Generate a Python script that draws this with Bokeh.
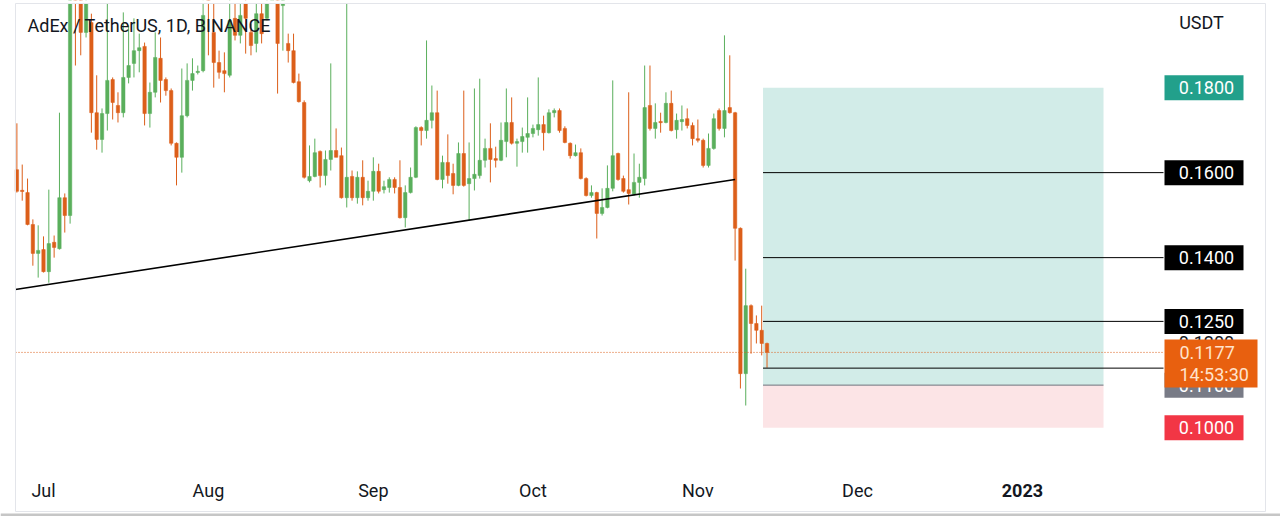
import pandas as pd
from bokeh.plotting import figure
from bokeh.models import Range1d, ColumnDataSource
from bokeh.core.properties import value
from bokeh.embed import file_html
from bokeh.resources import INLINE

# ---------------- data ----------------
start_date = "2022-06-26"
opens = [0.1607,0.1558,0.1553,0.1478,0.1410,0.1419,0.1367,0.1436,0.1421,0.1541,
         0.1499,0.2020,0.2005,0.1930,0.1953,0.1741,0.1678,0.1739,0.1819,0.1758,
         0.1741,0.1824,0.1857,0.1887,0.1897,0.1739,0.1789,0.1869,0.1819,0.1793,
         0.1669,0.1636,0.1734,0.1817,0.1836,0.1840,0.2015,0.1930,0.1859,0.1840,
         0.1829,0.1963,0.1923,0.1998,0.1930,0.1904,0.1974,0.1963,0.2010,0.2017,
         0.1993,0.1904,0.1887,0.1814,0.1765,0.1581,0.1591,0.1650,0.1593,0.1631,
         0.1652,0.1640,0.1541,0.1591,0.1541,0.1589,0.1541,0.1556,0.1603,0.1560,
         0.1565,0.1584,0.1565,0.1494,0.1553,0.1589,0.1706,0.1699,0.1723,0.1741,
         0.1584,0.1624,0.1598,0.1570,0.1645,0.1574,0.1586,0.1593,0.1629,0.1657,
         0.1633,0.1629,0.1673,0.1718,0.1669,0.1673,0.1683,0.1692,0.1701,0.1713,
         0.1694,0.1741,0.1746,0.1704,0.1669,0.1640,0.1647,0.1586,0.1546,0.1553,
         0.1504,0.1518,0.1563,0.1645,0.1586,0.1560,0.1549,0.1577,0.1586,0.1758,
         0.1704,0.1720,0.1718,0.1763,0.1701,0.1720,0.1727,0.1711,0.1680,0.1676,
         0.1617,0.1657,0.1746,0.1704,0.1753,0.1741,0.1469,0.1127,0.1287,0.1245,
         0.1229,0.1198]
highs = [0.1716,0.1619,0.1586,0.1490,0.1476,0.1450,0.1560,0.1452,0.1741,0.1551,
         0.2029,0.2050,0.2029,0.2024,0.1974,0.1829,0.1751,0.1998,0.1824,0.1789,
         0.1977,0.1946,0.1963,0.1927,0.1906,0.1812,0.1930,0.1918,0.1824,0.1798,
         0.1671,0.1845,0.1857,0.1869,0.1852,0.2005,0.2040,0.1998,0.1887,0.1883,
         0.2017,0.1998,0.1998,0.2017,0.1951,0.1998,0.1998,0.2017,0.2050,0.2029,
         0.2017,0.1927,0.1927,0.1833,0.1770,0.1664,0.1680,0.1652,0.1652,0.1857,
         0.1704,0.1659,0.1998,0.1605,0.1603,0.1629,0.1581,0.1636,0.1621,0.1581,
         0.1589,0.1589,0.1629,0.1570,0.1612,0.1709,0.1709,0.1911,0.1805,0.1793,
         0.1640,0.1690,0.1621,0.1671,0.1793,0.1671,0.1798,0.1821,0.1680,0.1716,
         0.1661,0.1718,0.1798,0.1777,0.1680,0.1706,0.1777,0.1713,0.1824,0.1734,
         0.1749,0.1751,0.1751,0.1709,0.1671,0.1666,0.1657,0.1589,0.1570,0.1555,
         0.1563,0.1617,0.1817,0.1647,0.1593,0.1789,0.1645,0.1621,0.1852,0.1852,
         0.1763,0.1741,0.1789,0.1793,0.1739,0.1758,0.1751,0.1718,0.1725,0.1680,
         0.1692,0.1739,0.1751,0.1923,0.1876,0.1743,0.1471,0.1374,0.1290,0.1264,
         0.1287,0.1200]
lows = [0.1553,0.1534,0.1476,0.1381,0.1353,0.1365,0.1341,0.1400,0.1419,0.1459,
        0.1480,0.1852,0.1876,0.1918,0.1694,0.1654,0.1647,0.1699,0.1725,0.1718,
        0.1730,0.1810,0.1824,0.1836,0.1711,0.1706,0.1777,0.1765,0.1781,0.1664,
        0.1570,0.1600,0.1730,0.1793,0.1831,0.1836,0.1876,0.1800,0.1821,0.1789,
        0.1824,0.1911,0.1904,0.1880,0.1876,0.1883,0.1904,0.1958,0.2007,0.1786,
        0.1887,0.1859,0.1810,0.1765,0.1586,0.1577,0.1589,0.1565,0.1570,0.1605,
        0.1636,0.1539,0.1518,0.1534,0.1527,0.1523,0.1534,0.1534,0.1551,0.1551,
        0.1553,0.1551,0.1492,0.1471,0.1551,0.1587,0.1664,0.1680,0.1704,0.1582,
        0.1563,0.1574,0.1549,0.1568,0.1567,0.1487,0.1558,0.1586,0.1612,0.1577,
        0.1612,0.1627,0.1636,0.1666,0.1614,0.1647,0.1647,0.1683,0.1687,0.1652,
        0.1692,0.1730,0.1694,0.1669,0.1633,0.1638,0.1584,0.1544,0.1541,0.1445,
        0.1499,0.1516,0.1556,0.1581,0.1553,0.1525,0.1546,0.1541,0.1570,0.1699,
        0.1680,0.1694,0.1716,0.1697,0.1680,0.1699,0.1704,0.1664,0.1671,0.1612,
        0.1612,0.1654,0.1699,0.1683,0.1739,0.1393,0.1092,0.1052,0.1174,0.1198,
        0.1170,0.1141]
closes = [0.1556,0.1556,0.1478,0.1410,0.1417,0.1367,0.1433,0.1424,0.1541,0.1499,
          0.2012,0.2008,0.1930,0.2000,0.1741,0.1678,0.1739,0.1817,0.1765,0.1741,
          0.1824,0.1852,0.1887,0.1894,0.1739,0.1789,0.1871,0.1817,0.1793,0.1669,
          0.1636,0.1734,0.1817,0.1833,0.1838,0.1970,0.2006,0.1859,0.1836,0.1833,
          0.1958,0.1923,0.1970,0.1963,0.1899,0.1974,0.1927,0.1998,0.2035,0.1904,
          0.2005,0.1887,0.1812,0.1767,0.1589,0.1591,0.1647,0.1593,0.1631,0.1652,
          0.1636,0.1541,0.1589,0.1541,0.1589,0.1541,0.1556,0.1603,0.1556,0.1567,
          0.1584,0.1565,0.1494,0.1553,0.1589,0.1706,0.1699,0.1723,0.1741,0.1584,
          0.1624,0.1593,0.1570,0.1645,0.1570,0.1586,0.1596,0.1629,0.1657,0.1631,
          0.1629,0.1676,0.1718,0.1669,0.1673,0.1685,0.1692,0.1704,0.1713,0.1694,
          0.1741,0.1746,0.1699,0.1671,0.1640,0.1647,0.1586,0.1546,0.1553,0.1504,
          0.1518,0.1563,0.1640,0.1584,0.1556,0.1551,0.1577,0.1589,0.1753,0.1704,
          0.1718,0.1718,0.1763,0.1699,0.1723,0.1725,0.1711,0.1680,0.1676,0.1617,
          0.1657,0.1727,0.1704,0.1746,0.1741,0.1469,0.1127,0.1287,0.1245,0.1229,
          0.1198,0.1177]

trend_dates = ["2022-06-25 17:00", "2022-11-08 00:00"]
trend_prices = [0.1325, 0.1584]

position_start = "2022-11-13 06:00"
position_end = "2023-01-16 06:00"
entry_price = 0.11
target_price = 0.18
stop_price = 0.10
level_prices = [0.16, 0.14, 0.125, 0.1140]

scale_labels = ["0.1800", "0.1600", "0.1400", "0.1250", "0.1100", "0.1000"]
scale_prices = [0.18, 0.16, 0.14, 0.125, 0.11, 0.10]
scale_colors = ["#22a08b", "#000000", "#000000", "#000000", "#787b86", "#f23645"]
hidden_label = "0.1200"
hidden_price = 0.12
last_price = 0.1177
countdown = "14:53:30"

month_ticks = ["2022-07-01", "2022-08-01", "2022-09-01", "2022-10-01",
               "2022-11-01", "2022-12-01", "2023-01-01"]
month_labels = ["Jul", "Aug", "Sep", "Oct", "Nov", "Dec", "2023"]

title_text = "AdEx / TetherUS, 1D, BINANCE"
currency = "USDT"

# ---------------- layout helpers ----------------
DAY = 86400000.0
PX_PER_DAY = 5.32
PX_PER_PRICE = 4250.0
TOP_PRICE = 0.2005
W, H = 1280, 516

def ms(d):
    return pd.Timestamp(d).value / 1e6

ORIGIN = ms("2022-07-01") - 43 / PX_PER_DAY * DAY

def X(px):
    return ORIGIN + px / PX_PER_DAY * DAY

def P(py):
    return TOP_PRICE - py / PX_PER_PRICE

UP = "#5aaf5c"
DOWN = "#dc5f1a"
TXT = "#131722"
FONT = value("Roboto")
FS = "18px"

p = figure(width=W, height=H, x_range=Range1d(X(0), X(W)), y_range=Range1d(P(H), P(0)),
           min_border=0, toolbar_location=None, output_backend="svg",
           x_axis_location=None, y_axis_location=None)
p.grid.visible = False
p.outline_line_color = None
p.background_fill_color = "white"
p.border_fill_color = "white"

# position box (long)
p.quad(left=[ms(position_start)], right=[ms(position_end)], bottom=[entry_price], top=[target_price],
       fill_color="#d2ece8", line_color=None)
p.quad(left=[ms(position_start)], right=[ms(position_end)], bottom=[stop_price], top=[entry_price],
       fill_color="#fce4e6", line_color=None)
p.segment(x0=[ms(position_start)], x1=[ms(position_end)], y0=[entry_price], y1=[entry_price],
          line_color="#6f727c", line_width=1)

# candles
dates = pd.date_range(start_date, periods=len(opens), freq="D")
xs = [d.value / 1e6 for d in dates]
min_h = 1.2 / PX_PER_PRICE
tops, bots, cols = [], [], []
for o, c in zip(opens, closes):
    t, b = max(o, c), min(o, c)
    if t - b < min_h:
        mid = (t + b) / 2
        t, b = mid + min_h / 2, mid - min_h / 2
    tops.append(t)
    bots.append(b)
    cols.append(UP if c >= o else DOWN)
src = ColumnDataSource(dict(x=xs, top=tops, bottom=bots, high=highs, low=lows, color=cols))
p.segment(x0="x", x1="x", y0="low", y1="high", line_color="color", line_width=1, source=src)
p.vbar(x="x", width=0.64 * DAY, top="top", bottom="bottom", fill_color="color",
       line_color="color", line_width=0.5, source=src)

# trend line
p.line(x=[ms(d) for d in trend_dates], y=trend_prices, line_color="black", line_width=1.6)

# target/level lines
for lv in level_prices:
    p.segment(x0=[ms(position_start)], x1=[X(1163)], y0=[lv], y1=[lv], line_color="black", line_width=1)

# last price dotted line
p.segment(x0=[X(15)], x1=[X(1163)], y0=[last_price], y1=[last_price],
          line_color=DOWN, line_width=1, line_dash="1 2")

# top white strip + frame
p.quad(left=[X(0)], right=[X(W)], top=[P(-5)], bottom=[P(3)], fill_color="white", line_color=None)
p.quad(left=[X(15)], right=[X(1265)], top=[P(3)], bottom=[P(511)], fill_color=None,
       line_color="#e3e5ea", line_width=1)
p.quad(left=[X(0)], right=[X(W)], top=[P(513)], bottom=[P(H + 2)], fill_color="#c6c6c6", line_color=None)

# price scale labels
half = 12.5 / PX_PER_PRICE
p.text(x=[X(1206)], y=[hidden_price], text=[hidden_label], text_font=FONT, text_font_size=FS,
       text_color=TXT, text_align="center", text_baseline="middle")
p.quad(left=[X(1164)] * len(scale_prices), right=[X(1243)] * len(scale_prices),
       top=[v + half for v in scale_prices], bottom=[v - half for v in scale_prices],
       fill_color=scale_colors, line_color=None)
p.text(x=[X(1206)] * len(scale_prices), y=scale_prices, text=scale_labels, text_font=FONT,
       text_font_size=FS, text_color="white", text_align="center", text_baseline="middle")

# last price box
p.quad(left=[X(1164)], right=[X(1257)], top=[last_price + 13 / PX_PER_PRICE],
       bottom=[last_price - 35 / PX_PER_PRICE], fill_color="#e8600f", line_color=None)
p.text(x=[X(1179)], y=[last_price], text=[f"{last_price:.4f}"], text_font=FONT, text_font_size=FS,
       text_color="#ffe3cc", text_align="left", text_baseline="middle")
p.text(x=[X(1179)], y=[last_price - 22 / PX_PER_PRICE], text=[countdown], text_font=FONT,
       text_font_size=FS, text_color="#ffe3cc", text_align="left", text_baseline="middle")

# texts
p.text(x=[X(1201)], y=[P(22)], text=[currency], text_font=FONT, text_font_size=FS,
       text_color=TXT, text_align="center", text_baseline="middle")
p.text(x=[X(27)], y=[P(25)], text=[title_text], text_font=FONT, text_font_size=FS,
       text_color=TXT, text_align="left", text_baseline="middle")

reg = [(ms(d), l) for d, l in zip(month_ticks, month_labels) if not l.isdigit()]
yr = [(ms(d), l) for d, l in zip(month_ticks, month_labels) if l.isdigit()]
p.text(x=[a for a, _ in reg], y=[P(490)] * len(reg), text=[b for _, b in reg], text_font=FONT,
       text_font_size=FS, text_color=TXT, text_align="center", text_baseline="middle")
p.text(x=[a for a, _ in yr], y=[P(490)] * len(yr), text=[b for _, b in yr], text_font=FONT,
       text_font_size=FS, text_font_style="bold", text_color=TXT, text_align="center",
       text_baseline="middle")

open("out.html", "w").write(file_html(p, INLINE))
